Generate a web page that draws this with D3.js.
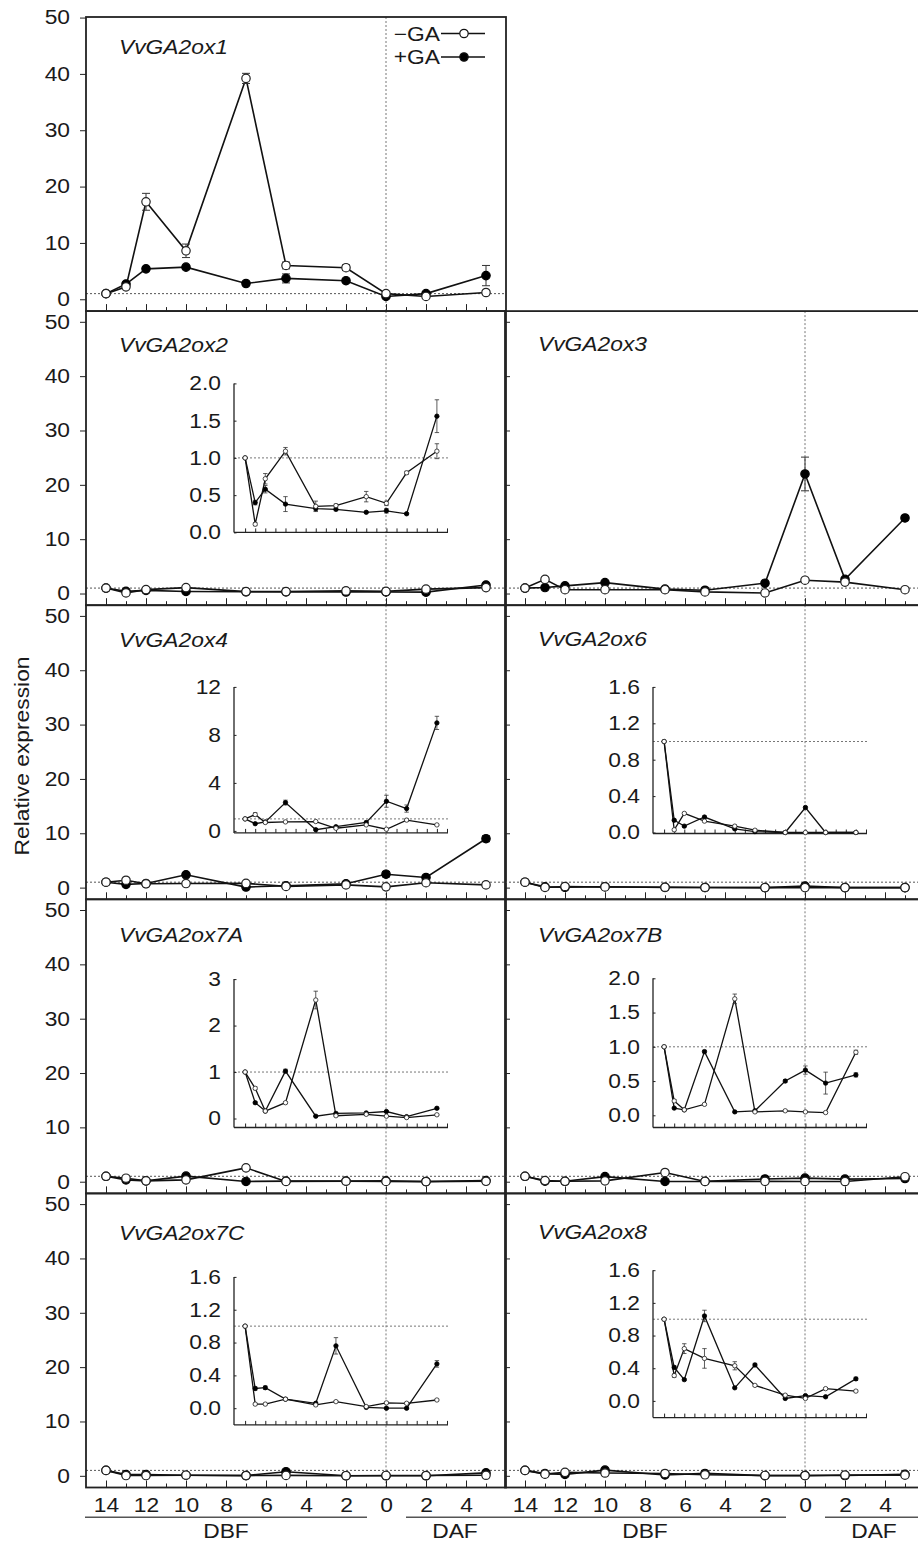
<!DOCTYPE html>
<html>
<head>
<meta charset="utf-8">
<script src="https://cdn.jsdelivr.net/npm/d3@7"></script>
<style>
  body { margin: 0; background: #fff; }
  svg text { font-family: "Liberation Sans", Arial, sans-serif; fill: #1a1a1a; }
</style>
</head>
<body>
<div id="chart"></div>
<script>
// 1. Data
const days = [-14, -13, -12, -10, -7, -5, -2, 0, 2, 5];
const dayTicks = d3.range(-14, 6);
const dayLabels = [-14, -12, -10, -8, -6, -4, -2, 0, 2, 4];
const mainTicks = [0, 10, 20, 30, 40, 50];

const ox1Minus = [1.0, 2.2, 17.3, 8.6, 39.2, 6.0, 5.6, 1.0, 0.5, 1.2];
const ox1MinusErr = [0, 0.3, 1.5, 1.2, 0.9, 0.6, 0.5, 0.2, 0.2, 0.3];
const ox1Plus = [1.0, 2.7, 5.4, 5.7, 2.8, 3.7, 3.3, 0.5, 1.0, 4.2];
const ox1PlusErr = [0, 0.3, 0.3, 0.3, 0.3, 0.8, 0.3, 0.2, 0.3, 1.8];

const ox2Minus = [1.0, 0.11, 0.72, 1.09, 0.35, 0.36, 0.48, 0.39, 0.80, 1.09];
const ox2MinusErr = [0, 0.02, 0.07, 0.05, 0.07, 0.02, 0.07, 0.03, 0.02, 0.10];
const ox2Plus = [1.0, 0.40, 0.58, 0.38, 0.32, 0.31, 0.27, 0.29, 0.25, 1.56];
const ox2PlusErr = [0, 0.03, 0.05, 0.10, 0.03, 0.02, 0.01, 0.03, 0.01, 0.22];

const ox3Minus = [1.0, 2.6, 0.7, 0.7, 0.7, 0.3, 0.1, 2.45, 2.1, 0.7];
const ox3MinusErr = [0, 0.4, 0.1, 0.1, 0.1, 0.1, 0.1, 0.3, 0.2, 0.1];
const ox3Plus = [1.0, 1.1, 1.4, 2.0, 0.8, 0.6, 1.9, 22.0, 2.6, 13.9];
const ox3PlusErr = [0, 0.2, 0.2, 0.2, 0.1, 0.1, 0.3, 3.1, 0.3, 0.4];

const ox4Minus = [1.0, 1.36, 0.7, 0.75, 0.78, 0.22, 0.5, 0.14, 0.9, 0.5];
const ox4MinusErr = [0, 0.15, 0.05, 0.05, 0.05, 0.05, 0.05, 0.05, 0.1, 0.05];
const ox4Plus = [1.0, 0.6, 0.75, 2.36, 0.1, 0.35, 0.7, 2.47, 1.86, 9.0];
const ox4PlusErr = [0, 0.05, 0.05, 0.2, 0.05, 0.05, 0.1, 0.5, 0.3, 0.55];

const ox6Minus = [1.0, 0.03, 0.21, 0.125, 0.07, 0.025, 0.0, 0.0, 0.0, 0.0];
const ox6MinusErr = [0, 0.01, 0.01, 0.01, 0.01, 0.01, 0.005, 0.005, 0.005, 0.005];
const ox6Plus = [1.0, 0.135, 0.07, 0.17, 0.04, 0.01, 0.0, 0.275, 0.0, 0.0];
const ox6PlusErr = [0, 0.01, 0.01, 0.01, 0.01, 0.005, 0.005, 0.01, 0.005, 0.005];

const ox7AMinus = [1.0, 0.65, 0.16, 0.34, 2.55, 0.06, 0.09, 0.05, 0.02, 0.08];
const ox7AMinusErr = [0, 0.03, 0.01, 0.02, 0.19, 0.01, 0.01, 0.01, 0.01, 0.01];
const ox7APlus = [1.0, 0.34, 0.16, 1.02, 0.05, 0.11, 0.12, 0.15, 0.04, 0.22];
const ox7APlusErr = [0, 0.02, 0.01, 0.04, 0.01, 0.01, 0.01, 0.02, 0.01, 0.02];

const ox7BMinus = [1.0, 0.21, 0.08, 0.16, 1.70, 0.05, 0.066, 0.05, 0.04, 0.92];
const ox7BMinusErr = [0, 0.02, 0.01, 0.01, 0.07, 0.01, 0.01, 0.01, 0.01, 0.03];
const ox7BPlus = [1.0, 0.105, 0.08, 0.93, 0.05, 0.066, 0.50, 0.66, 0.47, 0.59];
const ox7BPlusErr = [0, 0.01, 0.01, 0.02, 0.01, 0.01, 0.02, 0.06, 0.16, 0.03];

const ox7CMinus = [1.0, 0.05, 0.05, 0.11, 0.04, 0.08, 0.02, 0.065, 0.06, 0.10];
const ox7CMinusErr = [0, 0.01, 0.01, 0.01, 0.01, 0.01, 0.01, 0.01, 0.01, 0.01];
const ox7CPlus = [1.0, 0.24, 0.25, 0.11, 0.06, 0.76, 0.01, 0.0, 0.0, 0.54];
const ox7CPlusErr = [0, 0.02, 0.02, 0.01, 0.01, 0.10, 0.01, 0.01, 0.01, 0.04];

const ox8Minus = [1.0, 0.31, 0.64, 0.52, 0.43, 0.19, 0.07, 0.03, 0.15, 0.12];
const ox8MinusErr = [0, 0.02, 0.06, 0.12, 0.05, 0.01, 0.01, 0.01, 0.01, 0.01];
const ox8Plus = [1.0, 0.41, 0.26, 1.04, 0.16, 0.44, 0.03, 0.065, 0.05, 0.27];
const ox8PlusErr = [0, 0.02, 0.01, 0.07, 0.01, 0.02, 0.01, 0.01, 0.01, 0.02];

const ticks20 = [0, 0.5, 1.0, 1.5, 2.0];
const ticks12 = [0, 4, 8, 12];
const ticks16 = [0, 0.4, 0.8, 1.2, 1.6];
const ticks3 = [0, 1, 2, 3];

// 2. Layout
const W = 918, H = 1547;
const colLeft = [86, 505];
const panelW = 420, panelH = 294.1;
const rowTop = r => 17 + r * panelH;
const fontSize = "20px";
const textStretch = 1.14; // the figure's lettering is a bit wider than Arial

const panels = [
  { gene: "VvGA2ox1", col: 0, row: 0, minus: ox1Minus, minusErr: ox1MinusErr, plus: ox1Plus, plusErr: ox1PlusErr, labelDy: 37.3 },
  { gene: "VvGA2ox2", col: 0, row: 1, minus: ox2Minus, minusErr: ox2MinusErr, plus: ox2Plus, plusErr: ox2PlusErr, labelDy: 40.7,
    inset: { ticks: ticks20, fmt: ".1f", top: 72.3, zero: 221.3, axis: 221.3 } },
  { gene: "VvGA2ox3", col: 1, row: 1, minus: ox3Minus, minusErr: ox3MinusErr, plus: ox3Plus, plusErr: ox3PlusErr, labelDy: 40 },
  { gene: "VvGA2ox4", col: 0, row: 2, minus: ox4Minus, minusErr: ox4MinusErr, plus: ox4Plus, plusErr: ox4PlusErr, labelDy: 42,
    inset: { ticks: ticks12, fmt: "d", top: 81.7, zero: 225.7, axis: 227.7 } },
  { gene: "VvGA2ox6", col: 1, row: 2, minus: ox6Minus, minusErr: ox6MinusErr, plus: ox6Plus, plusErr: ox6PlusErr, labelDy: 40.5,
    inset: { ticks: ticks16, fmt: ".1f", top: 81.7, zero: 227.3, axis: 228.3 } },
  { gene: "VvGA2ox7A", col: 0, row: 3, minus: ox7AMinus, minusErr: ox7AMinusErr, plus: ox7APlus, plusErr: ox7APlusErr, labelDy: 42.2,
    inset: { ticks: ticks3, fmt: "d", top: 79.8, zero: 219.2, axis: 228.2 } },
  { gene: "VvGA2ox7B", col: 1, row: 3, minus: ox7BMinus, minusErr: ox7BMinusErr, plus: ox7BPlus, plusErr: ox7BPlusErr, labelDy: 42.2,
    inset: { ticks: ticks20, fmt: ".1f", top: 79, zero: 216, axis: 228.2 } },
  { gene: "VvGA2ox7C", col: 0, row: 4, minus: ox7CMinus, minusErr: ox7CMinusErr, plus: ox7CPlus, plusErr: ox7CPlusErr, labelDy: 46.5,
    inset: { ticks: ticks16, fmt: ".1f", top: 83.5, zero: 214.8, axis: 231.5 } },
  { gene: "VvGA2ox8", col: 1, row: 4, minus: ox8Minus, minusErr: ox8MinusErr, plus: ox8Plus, plusErr: ox8PlusErr, labelDy: 45.8,
    inset: { ticks: ticks16, fmt: ".1f", top: 76.8, zero: 207.5, axis: 224.2 } }
];

const svg = d3.select("#chart").append("svg")
    .attr("width", W)
    .attr("height", H);

const mainSize = { r: 4.2, lw: 1.6, ew: 1, cap: 4, sw: 1.2 };
const insetSize = { r: 2.2, lw: 1.3, ew: 0.8, cap: 2.2, sw: 0.8 };

// 3. Helpers
function drawSeries(g, x, y, p, size) {
  const series = [
    { vals: p.plus, errs: p.plusErr, filled: true },
    { vals: p.minus, errs: p.minusErr, filled: false }
  ].map(s => ({ ...s, pts: days.map((d, i) => ({ d, v: s.vals[i], e: s.errs[i] })) }));

  const line = d3.line().x(q => x(q.d)).y(q => y(q.v));

  series.forEach(s => {
    g.append("path")
        .datum(s.pts)
        .attr("d", line)
        .attr("fill", "none")
        .attr("stroke", "#111")
        .attr("stroke-width", size.lw);
  });

  series.forEach(s => {
    const eb = g.selectAll(null)
      .data(s.pts.filter(q => q.e > 0))
      .enter().append("g")
        .attr("stroke", "#333")
        .attr("stroke-width", size.ew);
    eb.append("line")
        .attr("x1", q => x(q.d)).attr("x2", q => x(q.d))
        .attr("y1", q => y(q.v - q.e)).attr("y2", q => y(q.v + q.e));
    [-1, 1].forEach(sign => {
      eb.append("line")
          .attr("x1", q => x(q.d) - size.cap).attr("x2", q => x(q.d) + size.cap)
          .attr("y1", q => y(q.v + sign * q.e)).attr("y2", q => y(q.v + sign * q.e));
    });
  });

  series.forEach(s => {
    g.selectAll(null)
      .data(s.pts)
      .enter().append("circle")
        .attr("cx", q => x(q.d))
        .attr("cy", q => y(q.v))
        .attr("r", size.r)
        .attr("fill", s.filled ? "#000" : "#fff")
        .attr("stroke", s.filled ? "#000" : "#222")
        .attr("stroke-width", size.sw);
  });
}

function dayTickAxes(g, x, yPos, major, minor) {
  g.append("g")
      .attr("transform", `translate(0,${yPos})`)
      .call(d3.axisTop(x).tickValues(dayTicks.filter(d => d % 2 === 0)).tickSize(major).tickFormat(""))
      .call(a => a.select(".domain").remove());
  g.append("g")
      .attr("transform", `translate(0,${yPos})`)
      .call(d3.axisTop(x).tickValues(dayTicks.filter(d => d % 2 !== 0)).tickSize(minor).tickFormat(""))
      .call(a => a.select(".domain").remove());
}

// 4. Panels
panels.forEach(p => {
  const left = colLeft[p.col];
  const top = rowTop(p.row);
  const bottom = top + panelH;
  const right = left + panelW;

  const x = d3.scaleLinear().domain([-15, 6]).range([left, right]);
  const y = d3.scaleLinear()
      .domain(p.row === 0 ? [-2.1, 50.1] : [-2.15, 51.97])
      .range([bottom, top]);

  const g = svg.append("g").attr("class", "panel");

  // dotted reference lines
  g.append("line")
      .attr("x1", x(0)).attr("x2", x(0))
      .attr("y1", top).attr("y2", bottom)
      .attr("stroke", "#777").attr("stroke-width", 1).attr("stroke-dasharray", "2,2");
  g.append("line")
      .attr("x1", left).attr("x2", Math.min(right, W))
      .attr("y1", y(1)).attr("y2", y(1))
      .attr("stroke", "#555").attr("stroke-width", 1).attr("stroke-dasharray", "2,2");

  // inset
  if (p.inset) {
    const ins = p.inset;
    const ix = d3.scaleLinear().domain([-15.1, 6.1]).range([left + 148, left + 362]);
    const iy = d3.scaleLinear()
        .domain([0, d3.max(ins.ticks)])
        .range([top + ins.zero, top + ins.top]);
    const ig = g.append("g").attr("class", "inset");

    ig.append("line")
        .attr("x1", ix.range()[0]).attr("x2", ix.range()[1])
        .attr("y1", iy(1)).attr("y2", iy(1))
        .attr("stroke", "#777").attr("stroke-width", 1).attr("stroke-dasharray", "2,2");

    // axes lines
    ig.append("line")
        .attr("x1", ix.range()[0]).attr("x2", ix.range()[0])
        .attr("y1", top + ins.top).attr("y2", top + ins.axis)
        .attr("stroke", "#222").attr("stroke-width", 1.3);
    ig.append("line")
        .attr("x1", ix.range()[0]).attr("x2", ix.range()[1])
        .attr("y1", top + ins.axis).attr("y2", top + ins.axis)
        .attr("stroke", "#222").attr("stroke-width", 1.3);

    ig.append("g")
        .attr("transform", `translate(${ix.range()[0]},0)`)
        .call(d3.axisRight(iy).tickValues(ins.ticks).tickSize(2.5).tickFormat(""))
        .call(a => a.select(".domain").remove());
    ig.append("g")
        .attr("transform", `translate(${ix.range()[0]},0)`)
        .call(d3.axisLeft(iy).tickValues(ins.ticks).tickSize(0).tickPadding(13).tickFormat(d3.format(ins.fmt)))
        .call(a => a.select(".domain").remove())
        .selectAll("text")
          .style("font-size", fontSize);

    ig.append("g")
        .attr("transform", `translate(0,${top + ins.axis})`)
        .call(d3.axisTop(ix).tickValues(d3.range(-14, 7)).tickSize(4).tickFormat(""))
        .call(a => a.select(".domain").remove());

    drawSeries(ig, ix, iy, p, insetSize);
  }

  drawSeries(g, x, y, p, mainSize);

  // frame
  g.append("rect")
      .attr("x", left).attr("y", top)
      .attr("width", panelW).attr("height", panelH)
      .attr("fill", "none")
      .attr("stroke", "#222")
      .attr("stroke-width", 1.8);

  // y ticks
  if (p.col === 0) {
    g.append("g")
        .attr("transform", `translate(${left},0)`)
        .call(d3.axisLeft(y).tickValues(mainTicks).tickSize(6).tickPadding(10))
        .call(a => a.select(".domain").remove())
        .selectAll("text")
          .style("font-size", fontSize);
  } else {
    g.append("g")
        .attr("transform", `translate(${left},0)`)
        .call(d3.axisRight(y).tickValues(mainTicks).tickSize(5).tickFormat(""))
        .call(a => a.select(".domain").remove());
  }

  // x ticks (inside, along the bottom)
  dayTickAxes(g, x, bottom, 7, 4);

  // bottom row: day labels + DBF / DAF
  if (p.row === 4) {
    g.append("g")
        .attr("transform", `translate(0,${bottom})`)
        .call(d3.axisBottom(x).tickValues(dayLabels).tickSize(0).tickPadding(10.5).tickFormat(d => Math.abs(d)))
        .call(a => a.select(".domain").remove())
        .selectAll("text")
          .style("font-size", fontSize);

    const groups = [
      { name: "DBF", from: -15.05, to: -0.95 },
      { name: "DAF", from: 1, to: 5.9 }
    ];
    groups.forEach(gr => {
      g.append("line")
          .attr("x1", x(gr.from)).attr("x2", x(gr.to))
          .attr("y1", 1517.3).attr("y2", 1517.3)
          .attr("stroke", "#555").attr("stroke-width", 1.5);
      g.append("text")
          .attr("x", (x(gr.from) + x(gr.to)) / 2)
          .attr("y", 1538.3)
          .attr("text-anchor", "middle")
          .style("font-size", fontSize)
          .text(gr.name);
    });
  }

  // gene label
  g.append("text")
      .attr("x", left + 33)
      .attr("y", top + p.labelDy)
      .style("font-size", fontSize)
      .style("font-style", "italic")
      .text(p.gene);
});

svg.selectAll(".tick line").attr("stroke", "#222");

// 5. Legend (top panel)
const legendRows = [
  { label: "\u2212GA", filled: false, y: 33.5 },
  { label: "+GA", filled: true, y: 57 }
];
const legend = svg.append("g").attr("class", "legend");
legendRows.forEach(row => {
  legend.append("text")
      .attr("x", 440)
      .attr("y", row.y + 7)
      .attr("text-anchor", "end")
      .style("font-size", fontSize)
      .text(row.label);
  legend.append("line")
      .attr("x1", 441).attr("x2", 485)
      .attr("y1", row.y).attr("y2", row.y)
      .attr("stroke", "#111").attr("stroke-width", 1.6);
  legend.append("circle")
      .attr("cx", 464).attr("cy", row.y)
      .attr("r", 4.2)
      .attr("fill", row.filled ? "#000" : "#fff")
      .attr("stroke", "#111")
      .attr("stroke-width", 1.2);
});

// 6. Y-axis title
svg.append("text")
    .attr("transform", "translate(28.5,756) rotate(-90)")
    .attr("text-anchor", "middle")
    .style("font-size", fontSize)
    .text("Relative expression");

// 7. Widen all lettering slightly, as in the original figure
svg.selectAll("text").each(function() {
  const w = this.getComputedTextLength();
  if (w > 0) {
    d3.select(this)
        .attr("textLength", w * textStretch)
        .attr("lengthAdjust", "spacingAndGlyphs");
  }
});
</script>
</body>
</html>
